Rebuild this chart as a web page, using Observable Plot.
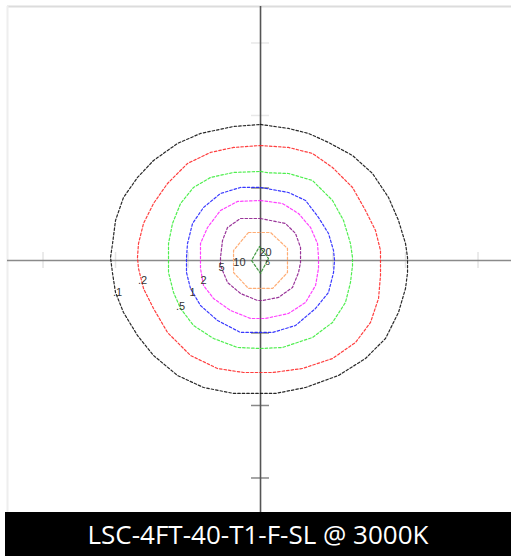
<!DOCTYPE html>
<html>
<head>
<meta charset="utf-8">
<script src="https://cdn.jsdelivr.net/npm/d3@7"></script>
<script src="https://cdn.jsdelivr.net/npm/@observablehq/plot@0.6"></script>
<style>
  html, body { margin: 0; padding: 0; background: #fff; }
  #chart svg { display: block; }
  #title {
    margin-left: 5px; width: 506px; height: 44px; background: #000; color: #fff;
    font-family: "Open Sans", sans-serif; font-size: 26px; line-height: 44px; text-align: center;
  }
</style>
</head>
<body>
<div id="chart"></div>
<div id="title">LSC-4FT-40-T1-F-SL @ 3000K</div>
<script>
// Isofootcandle contours, coordinates in mounting-height units (x right, y up)
const c01 = [[0,1.876],[0.386,1.821],[0.662,1.752],[0.938,1.628],[1.269,1.448],[1.545,1.2],[1.766,0.869],[1.903,0.552],[2.0,0.234],[2.028,0.041],[2.028,-0.166],[2.0,-0.386],[1.903,-0.717],[1.724,-1.076],[1.448,-1.352],[1.076,-1.586],[0.621,-1.752],[0.207,-1.834],[-0.041,-1.834],[-0.372,-1.834],[-0.786,-1.752],[-1.145,-1.586],[-1.476,-1.31],[-1.697,-1.034],[-1.89,-0.717],[-2.0,-0.441],[-2.041,-0.179],[-2.069,0.041],[-2.041,0.234],[-2.0,0.552],[-1.89,0.869],[-1.697,1.145],[-1.476,1.379],[-1.145,1.614],[-0.828,1.752],[-0.372,1.848]];
const c02 = [[0,1.586],[0.386,1.559],[0.717,1.476],[0.993,1.283],[1.269,1.007],[1.448,0.69],[1.586,0.414],[1.655,0.138],[1.655,-0.207],[1.628,-0.524],[1.517,-0.855],[1.31,-1.131],[0.993,-1.352],[0.579,-1.49],[0.166,-1.545],[-0.234,-1.545],[-0.593,-1.49],[-0.966,-1.31],[-1.283,-0.993],[-1.476,-0.662],[-1.614,-0.386],[-1.683,-0.11],[-1.697,0.041],[-1.683,0.234],[-1.614,0.51],[-1.476,0.786],[-1.283,1.062],[-1.007,1.338],[-0.69,1.49],[-0.372,1.559]];
const c05 = [[0,1.228],[0.1,1.21],[0.386,1.2],[0.717,1.103],[0.993,0.828],[1.145,0.552],[1.241,0.234],[1.269,0.041],[1.269,-0.069],[1.241,-0.303],[1.172,-0.579],[0.993,-0.855],[0.717,-1.062],[0.303,-1.2],[0,-1.214],[-0.317,-1.2],[-0.648,-1.076],[-0.924,-0.897],[-1.103,-0.662],[-1.2,-0.441],[-1.269,-0.166],[-1.269,0.041],[-1.269,0.234],[-1.214,0.51],[-1.103,0.786],[-0.924,1.007],[-0.69,1.145],[-0.372,1.214]];
const c1 = [[0,1.007],[0.386,0.938],[0.621,0.828],[0.8,0.593],[0.938,0.372],[1.007,0.138],[1.021,0],[1.007,-0.166],[0.938,-0.441],[0.759,-0.662],[0.483,-0.897],[0.166,-0.993],[0,-0.993],[-0.276,-0.993],[-0.593,-0.828],[-0.828,-0.621],[-0.966,-0.386],[-1.021,-0.166],[-1.021,0.041],[-1.007,0.234],[-0.938,0.51],[-0.786,0.731],[-0.552,0.924],[-0.276,1.007]];
const c2 = [[0,0.828],[0.303,0.786],[0.524,0.648],[0.69,0.455],[0.786,0.234],[0.8,0.041],[0.8,-0.11],[0.759,-0.345],[0.621,-0.579],[0.386,-0.731],[0.069,-0.8],[-0.138,-0.8],[-0.414,-0.69],[-0.648,-0.524],[-0.786,-0.345],[-0.828,-0.11],[-0.828,0.041],[-0.828,0.234],[-0.731,0.455],[-0.552,0.69],[-0.317,0.814]];
const c5 = [[0,0.579],[0.345,0.51],[0.483,0.372],[0.552,0.179],[0.552,-0.028],[0.524,-0.166],[0.441,-0.372],[0.248,-0.51],[0.028,-0.552],[-0.041,-0.552],[-0.276,-0.455],[-0.455,-0.303],[-0.552,-0.069],[-0.552,0.041],[-0.524,0.276],[-0.455,0.455],[-0.276,0.579]];
const c10 = [[-0.166,0.386],[0.138,0.386],[0.372,0.166],[0.372,-0.166],[0.166,-0.386],[-0.166,-0.386],[-0.372,-0.166],[-0.372,0.138]];
const c20 = [[-0.014,0.193],[0.11,0.028],[0,-0.179],[-0.124,0]];

const levels = ["0.1", "0.2", "0.5", "1", "2", "5", "10", "20"];
const levelColors = ["#111111", "#ff2a2a", "#3cec3c", "#2424ff", "#ff2cff", "#8e1f8e", "#ffa466", "#2f8f2f"];
const shapes = [c01, c02, c05, c1, c2, c5, c10, c20];

// contour labels
const labelText = [".1", ".2", ".5", "1", "2", "5", "10", "20", "5"];
const labelX = [-1.972, -1.628, -1.103, -0.938, -0.786, -0.538, -0.29, 0.069, 0.1];
const labelY = [-0.441, -0.276, -0.634, -0.441, -0.276, -0.097, -0.028, 0.11, -0.03];
const labelSize = [11, 11, 11, 11, 11, 11, 11, 11, 8];

// axis ticks (units)
const tickVals = [-3, -2, -1, 1, 2, 3];
const xDomain = [-3.49, 3.462];
const yDomain = [-3.476, 3.503];

const rows = [];
shapes.forEach((s, i) => s.forEach(([x, y]) => rows.push({x, y, level: levels[i]})));
const labels = labelText.map((t, i) => ({t, x: labelX[i], y: labelY[i], s: labelSize[i]}));

const plot = Plot.plot({
  width: 511, height: 512,
  marginTop: 6, marginLeft: 7, marginRight: 0, marginBottom: 0,
  x: {domain: xDomain, axis: null},
  y: {domain: yDomain, axis: null},
  color: {domain: levels, range: levelColors},
  style: {background: "#fff"},
  marks: [
    Plot.ruleY([yDomain[1]], {stroke: "#dcdcdc", strokeWidth: 2}),
    Plot.ruleX([xDomain[0]], {stroke: "#eeeeee", strokeWidth: 2}),
    Plot.ruleY(tickVals, {x1: -0.124, x2: 0.124, stroke: d => d === 2 || d === 3 ? "#e8e8e8" : "#888", strokeWidth: 1.5}),
    Plot.ruleX(tickVals, {y1: -0.11, y2: 0.11, stroke: "#e4e4e4", strokeWidth: 1.5}),
    Plot.ruleY([0], {stroke: "#8a8a8a", strokeWidth: 1.6}),
    Plot.ruleX([0], {stroke: "#555", strokeWidth: 1.6}),
    Plot.line(rows, {x: "x", y: "y", z: "level", stroke: "level", curve: "linear-closed",
      strokeWidth: 1.2, strokeDasharray: "2.5,2", strokeOpacity: 0.9}),
    Plot.text(labels, {x: "x", y: "y", text: "t", fill: "#333", fontSize: d => d.s,
      fontFamily: "Liberation Sans, Arial, sans-serif"})
  ]
});
document.getElementById("chart").appendChild(plot);
</script>
</body>
</html>
